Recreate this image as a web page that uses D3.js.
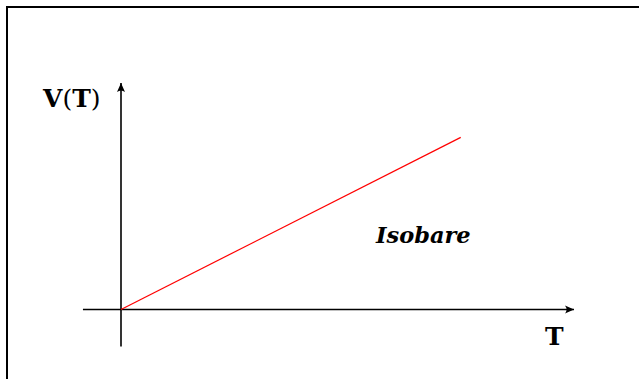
<!DOCTYPE html>
<html>
<head>
<meta charset="utf-8" />
<script src="https://d3js.org/d3.v7.min.js"></script>
<style>
  body { margin: 0; background: #fff; }
  text { font-family: "DejaVu Serif", serif; font-weight: bold; }
</style>
</head>
<body>
<div id="visu"></div>
<script>
// Données : isobare V proportionnel à T
const temperatures = [0, 7.5];
const volumes = [0, 7.6];
const axeXDomaine = [-0.84, 10];
const axeYDomaine = [-1.63, 10];

const largeur = 639;
const hauteur = 379;

const svg = d3.select('#visu')
  .append('svg')
  .attr('width', largeur)
  .attr('height', hauteur);

// cadre (seuls les bords haut et gauche sont visibles)
svg.append('rect')
  .attr('x', 7).attr('y', 7)
  .attr('width', 700).attr('height', 500)
  .attr('fill', 'none')
  .attr('stroke', '#000')
  .attr('stroke-width', 2);

const echelleX = d3.scaleLinear().domain([0, 10]).range([121, 574]);
const echelleY = d3.scaleLinear().domain([0, 10]).range([309.5, 83]);

// pointe de flèche
svg.append('defs').append('marker')
  .attr('id', 'fleche')
  .attr('viewBox', '-10 -5 11 10')
  .attr('refX', 0).attr('refY', 0)
  .attr('markerWidth', 11).attr('markerHeight', 10)
  .attr('markerUnits', 'userSpaceOnUse')
  .attr('orient', 'auto')
  .append('path')
  .attr('d', 'M0,0 L-9,-4 Q-6,0 -9,4 Z')
  .attr('fill', '#000');

// axe des T
svg.append('line')
  .attr('x1', echelleX(axeXDomaine[0])).attr('y1', echelleY(0))
  .attr('x2', echelleX(axeXDomaine[1])).attr('y2', echelleY(0))
  .attr('stroke', '#000').attr('stroke-width', 1.6)
  .attr('marker-end', 'url(#fleche)');

// axe des V
svg.append('line')
  .attr('x1', echelleX(0)).attr('y1', echelleY(axeYDomaine[0]))
  .attr('x2', echelleX(0)).attr('y2', echelleY(axeYDomaine[1]))
  .attr('stroke', '#000').attr('stroke-width', 1.6)
  .attr('marker-end', 'url(#fleche)');

// droite isobare
const ligne = d3.line()
  .x(d => echelleX(d[0]))
  .y(d => echelleY(d[1]));

svg.append('path')
  .datum(d3.zip(temperatures, volumes))
  .attr('d', ligne)
  .attr('fill', 'none')
  .attr('stroke', '#ff0000')
  .attr('stroke-width', 1.2);

// étiquettes
const etiquetteV = svg.append('text')
  .attr('x', 43).attr('y', 107)
  .attr('font-size', 25);
etiquetteV.append('tspan').text('V');
etiquetteV.append('tspan').attr('font-weight', 'normal').text('(');
etiquetteV.append('tspan').text('T');
etiquetteV.append('tspan').attr('font-weight', 'normal').text(')');

svg.append('text')
  .attr('x', 545).attr('y', 345)
  .attr('font-size', 25)
  .text('T');

svg.append('text')
  .attr('x', 376).attr('y', 243)
  .attr('font-size', 22.5)
  .attr('font-style', 'italic')
  .text('Isobare');
</script>
</body>
</html>
